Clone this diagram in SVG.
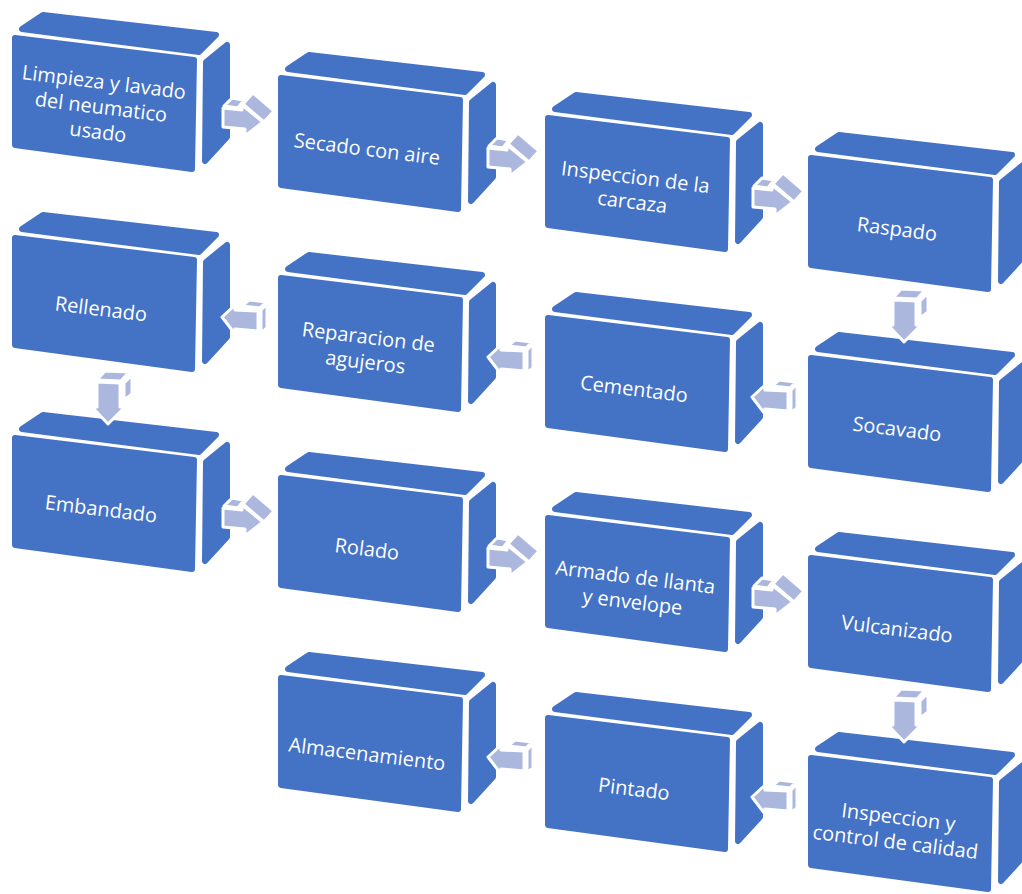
<svg xmlns="http://www.w3.org/2000/svg" xmlns:xlink="http://www.w3.org/1999/xlink" width="1022" height="894" viewBox="0 0 1022 894">
<style>
.face{fill:#4472C4;stroke:#4472C4;stroke-width:6;stroke-linejoin:round}
.arr{fill:#ABB7DD;stroke:#FFFFFF;stroke-width:3;stroke-linejoin:round}
.lbl{fill:#FFFFFF;font-family:"Open Sans","Liberation Sans",sans-serif;font-size:20px;text-anchor:middle}
</style>
<defs>
<g id="box">
<polygon class="face" points="10,-6 31,-20 204,0 187,17"/>
<polygon class="face" points="194,27 215,10 215,102 193,126"/>
<polygon class="face" points="3,3 182,25 180,134 3,110"/>
</g>
<g id="arrR">
<path class="arr" d="M1,-2 L9,-10 L21,-8 L15,0 Z"/>
<path class="arr" d="M20,-4 L30,-15 L51,3 L41,14 Z"/>
<path class="arr" d="M0,0 L19,2 L19,-3 L40,14 L22,28 L22,21 L0,19 Z"/>
</g>
<g id="arrL">
<path class="arr" d="M20,-9 L27,-15 L44,-13 L38,-7 Z"/>
<path class="arr" d="M39,-5 L45,-11 L45,13 L39,18 Z"/>
<path class="arr" d="M0,2 L13,-10 L13,-5 L36,-4 L36,16 L13,14 L13,19 Z"/>
</g>
<g id="arrD">
<path class="arr" d="M0,-2 L8,-11 L32,-10 L24,-1 Z"/>
<path class="arr" d="M27,1 L35,-7 L35,12 L27,18 Z"/>
<path class="arr" d="M0,0 L23,1 L23,25 L28,25 L11,42 L-5,25 L0,25 Z"/>
</g>
</defs>
<rect width="1022" height="894" fill="#FFFFFF"/>
<g id="n1" transform="translate(12,35)"><use xlink:href="#box"/><text class="lbl" transform="translate(89,72) rotate(7)"><tspan x="0" y="-18">Limpieza y lavado</tspan><tspan x="0" y="7">del neumatico</tspan><tspan x="0" y="32">usado</tspan></text></g>
<g id="n2" transform="translate(278,75)"><use xlink:href="#box"/><text class="lbl" transform="translate(89,74) rotate(7)"><tspan x="0" y="7">Secado con aire</tspan></text></g>
<g id="n3" transform="translate(545,115)"><use xlink:href="#box"/><text class="lbl" transform="translate(89,74) rotate(7)"><tspan x="0" y="-5">Inspeccion de la</tspan><tspan x="0" y="20">carcaza</tspan></text></g>
<g id="n4" transform="translate(808,155)"><use xlink:href="#box"/><text class="lbl" transform="translate(89,74) rotate(7)"><tspan x="0" y="7">Raspado</tspan></text></g>
<g id="n5" transform="translate(808,355)"><use xlink:href="#box"/><text class="lbl" transform="translate(89,74) rotate(7)"><tspan x="0" y="7">Socavado</tspan></text></g>
<g id="n6" transform="translate(545,315)"><use xlink:href="#box"/><text class="lbl" transform="translate(89,74) rotate(7)"><tspan x="0" y="7">Cementado</tspan></text></g>
<g id="n7" transform="translate(278,275)"><use xlink:href="#box"/><text class="lbl" transform="translate(89,74) rotate(7)"><tspan x="0" y="-5">Reparacion de</tspan><tspan x="0" y="20">agujeros</tspan></text></g>
<g id="n8" transform="translate(12,235)"><use xlink:href="#box"/><text class="lbl" transform="translate(89,74) rotate(7)"><tspan x="0" y="7">Rellenado</tspan></text></g>
<g id="n9" transform="translate(12,435)"><use xlink:href="#box"/><text class="lbl" transform="translate(89,74) rotate(7)"><tspan x="0" y="7">Embandado</tspan></text></g>
<g id="n10" transform="translate(278,475)"><use xlink:href="#box"/><text class="lbl" transform="translate(89,74) rotate(7)"><tspan x="0" y="7">Rolado</tspan></text></g>
<g id="n11" transform="translate(545,515)"><use xlink:href="#box"/><text class="lbl" transform="translate(89,74) rotate(7)"><tspan x="0" y="-5">Armado de llanta</tspan><tspan x="0" y="20">y envelope</tspan></text></g>
<g id="n12" transform="translate(808,555)"><use xlink:href="#box"/><text class="lbl" transform="translate(89,74) rotate(7)"><tspan x="0" y="7">Vulcanizado</tspan></text></g>
<g id="n13" transform="translate(808,755)"><use xlink:href="#box"/><text class="lbl" transform="translate(89,74) rotate(7)"><tspan x="0" y="-5">Inspeccion y</tspan><tspan x="0" y="20">control de calidad</tspan></text></g>
<g id="n14" transform="translate(545,715)"><use xlink:href="#box"/><text class="lbl" transform="translate(89,74) rotate(7)"><tspan x="0" y="7">Pintado</tspan></text></g>
<g id="n15" transform="translate(278,675)"><use xlink:href="#box"/><text class="lbl" transform="translate(89,79) rotate(7)"><tspan x="0" y="7">Almacenamiento</tspan></text></g>
<g id="connectors">
<use xlink:href="#arrR" transform="translate(223,108)"/>
<use xlink:href="#arrR" transform="translate(488,148)"/>
<use xlink:href="#arrR" transform="translate(753,188)"/>
<use xlink:href="#arrD" transform="translate(893,300)"/>
<use xlink:href="#arrL" transform="translate(752,395)"/>
<use xlink:href="#arrL" transform="translate(488,355)"/>
<use xlink:href="#arrL" transform="translate(222,315)"/>
<use xlink:href="#arrD" transform="translate(97,382)"/>
<use xlink:href="#arrR" transform="translate(223,508)"/>
<use xlink:href="#arrR" transform="translate(488,548)"/>
<use xlink:href="#arrR" transform="translate(753,588)"/>
<use xlink:href="#arrD" transform="translate(893,700)"/>
<use xlink:href="#arrL" transform="translate(752,795)"/>
<use xlink:href="#arrL" transform="translate(488,755)"/>
</g>
</svg>
